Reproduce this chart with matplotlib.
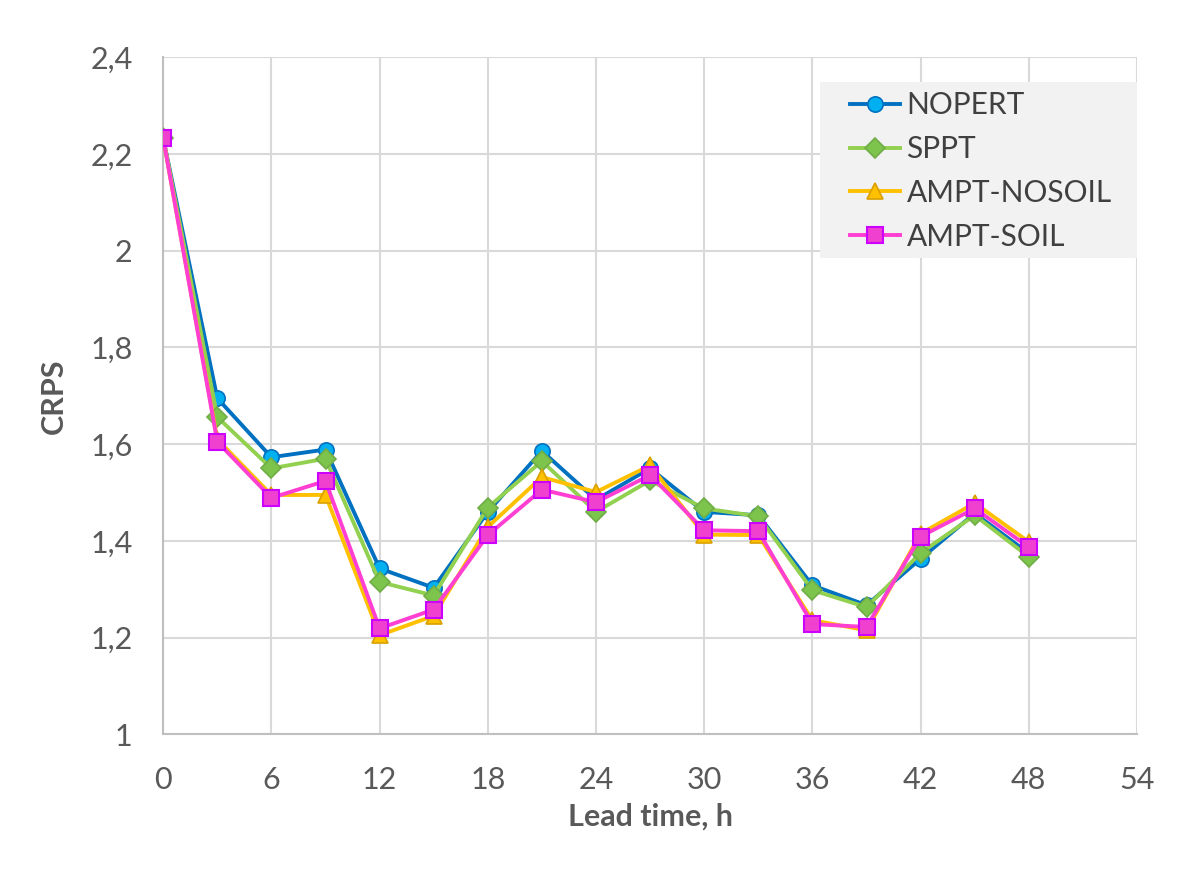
import matplotlib.pyplot as plt
import numpy as np
from matplotlib.ticker import FuncFormatter
from matplotlib.patches import Rectangle

plt.rcParams['font.family'] = ['Lato', 'DejaVu Sans']

lead = [0, 3, 6, 9, 12, 15, 18, 21, 24, 27, 30, 33, 36, 39, 42, 45, 48]
nopert = [2.233, 1.695, 1.573, 1.589, 1.343, 1.303, 1.460, 1.586, 1.485, 1.550, 1.460, 1.453, 1.308, 1.267, 1.363, 1.457, 1.374]
sppt = [2.233, 1.656, 1.550, 1.570, 1.315, 1.287, 1.469, 1.565, 1.460, 1.525, 1.467, 1.451, 1.298, 1.263, 1.375, 1.453, 1.367]
ampt_nosoil = [2.233, 1.610, 1.495, 1.495, 1.205, 1.245, 1.429, 1.532, 1.501, 1.556, 1.413, 1.412, 1.236, 1.215, 1.415, 1.478, 1.398]
ampt_soil = [2.233, 1.605, 1.489, 1.524, 1.219, 1.258, 1.412, 1.506, 1.480, 1.536, 1.422, 1.420, 1.228, 1.222, 1.409, 1.467, 1.387]

fig = plt.figure(figsize=(12, 8.69), dpi=100)
ax = fig.add_axes([0.136, 0.155, 0.8115, 0.779])

ax.plot(lead, nopert, color='#0070C0', lw=2.8, marker='o', ms=11,
        mfc='#00B0F0', mec='#0070C0', mew=1.2, label='NOPERT', zorder=3)
ax.plot(lead, sppt, color='#92D050', lw=2.8, marker='D', ms=10,
        mfc='#7CC44C', mec='#70AD47', mew=1.2, label='SPPT', zorder=4)
ax.plot(lead, ampt_nosoil, color='#FFC000', lw=2.8, marker='^', ms=12,
        mfc='#FFC000', mec='#D9A000', mew=1.2, label='AMPT-NOSOIL', zorder=5)
ax.plot(lead, ampt_soil, color='#FF3FD2', lw=2.8, marker='s', ms=11,
        mfc='#F040D0', mec='#CC00FF', mew=1.5, label='AMPT-SOIL', zorder=6)

ax.set_xlim(0, 54)
ax.set_ylim(1, 2.4)
ax.set_xticks(np.arange(0, 55, 6))
ax.set_yticks(np.arange(1, 2.41, 0.2))
ax.yaxis.set_major_formatter(FuncFormatter(lambda v, p: ('%g' % round(v, 1)).replace('.', ',')))

ax.grid(True, color='#D9D9D9', lw=1.5)
ax.set_axisbelow(True)
for s in ['top', 'right']:
    ax.spines[s].set_visible(False)
for s in ['left', 'bottom']:
    ax.spines[s].set_color('#BFBFBF')
    ax.spines[s].set_linewidth(1.5)
ax.tick_params(axis='y', length=0, labelsize=22, colors='#595959', pad=22)
ax.tick_params(axis='x', length=0, labelsize=22, colors='#595959', pad=23)

ax.set_xlabel('Lead time, h', fontsize=22, fontweight='bold', color='#595959', labelpad=6)
ax.set_ylabel('CRPS', fontsize=22, fontweight='bold', color='#595959', labelpad=16)

# legend background box
ax.add_patch(Rectangle((0.6745, 0.703), 0.3255, 0.26, transform=ax.transAxes,
                       facecolor='#F2F2F2', edgecolor='none', zorder=7, clip_on=False))
leg = ax.legend(loc='upper left', bbox_to_anchor=(0.705, 0.950), fontsize=21.5,
                frameon=False, handlelength=1.7, labelspacing=0.53,
                borderpad=0, handletextpad=0.2, borderaxespad=0)
leg.set_zorder(8)
for t in leg.get_texts():
    t.set_color('#404040')

plt.savefig('out.png')
